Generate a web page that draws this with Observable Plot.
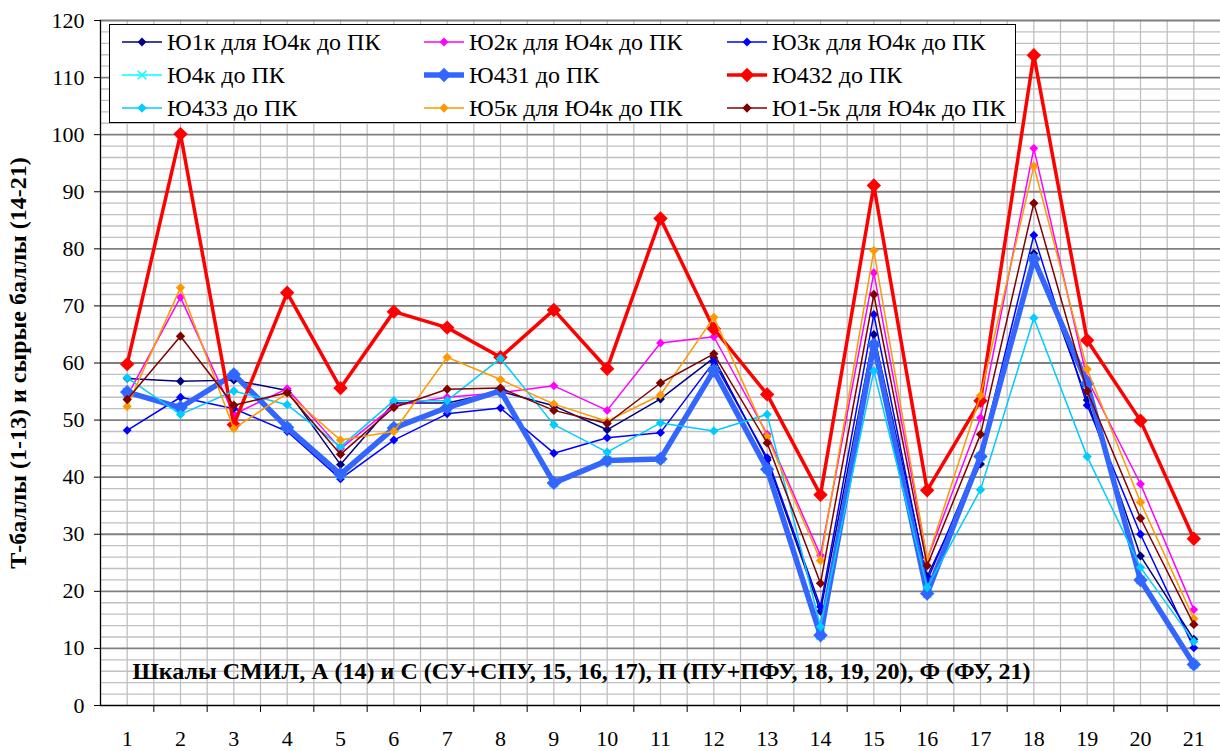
<!DOCTYPE html>
<html><head><meta charset="utf-8">
<script src="https://cdn.jsdelivr.net/npm/d3@7"></script>
<script src="https://cdn.jsdelivr.net/npm/@observablehq/plot@0.6"></script>
<style>
body{margin:0;background:#fff;}
#wrap{position:relative;width:1220px;height:751px;overflow:hidden;}
#legend{position:absolute;left:109px;top:24px;width:905px;height:97px;border:1.5px solid #000;background:#fff;font-family:"Liberation Serif",serif;font-size:24px;color:#000;}
.item{position:absolute;display:flex;align-items:center;white-space:nowrap;height:30px;}
.item svg{margin-right:5px;}
</style></head><body><div id="wrap"><div id="chart"></div><div id="legend"></div></div>
<script>
const categories = [1,2,3,4,5,6,7,8,9,10,11,12,13,14,15,16,17,18,19,20,21];
const seriesNames = ["Ю1к для Ю4к до ПК","Ю2к для Ю4к до ПК","Ю3к для Ю4к до ПК","Ю4к до ПК","Ю431 до ПК","Ю432 до ПК","Ю433 до ПК","Ю5к для Ю4к до ПК","Ю1-5к для Ю4к до ПК"];
const yu1k  = [57.3,56.8,57.0,55.2,42.2,53.0,53.0,55.0,52.5,48.3,53.7,60.9,43.0,16.5,65.0,22.6,42.3,79.2,53.5,26.2,11.6];
const yu2k  = [54.2,71.5,51.0,55.5,45.0,52.5,54.0,54.8,56.0,51.7,63.5,64.6,47.5,26.3,75.8,25.6,50.4,97.6,57.2,38.8,16.8];
const yu3k  = [48.2,54.0,52.0,48.0,39.7,46.5,51.1,52.1,44.2,46.9,47.8,60.2,43.4,17.3,68.5,21.8,44.0,82.4,52.6,30.0,10.1];
const yu4k  = [54.9,52.2,58.0,48.7,40.5,48.6,52.2,55.1,39.0,42.9,43.2,58.7,41.4,12.3,63.2,19.6,43.6,78.2,56.4,22.0,7.2];
const yu431 = [54.9,52.2,58.0,48.7,40.5,48.6,52.2,55.1,39.0,42.9,43.2,58.7,41.4,12.3,63.2,19.6,43.6,78.2,56.4,22.0,7.2];
const yu432 = [59.8,100.1,49.2,72.3,55.6,69.0,66.2,61.0,69.3,59.0,85.3,66.0,54.5,36.9,91.1,37.7,53.4,113.9,64.0,49.9,29.2];
const yu433 = [57.4,51.0,55.1,52.7,45.3,53.4,53.4,60.8,49.2,44.4,49.5,48.1,51.0,13.8,58.6,20.7,37.8,67.9,43.6,24.2,11.2];
const yu5k  = [52.4,73.2,48.5,54.7,46.5,48.0,61.0,57.1,52.8,49.8,54.4,68.0,47.1,25.4,79.7,25.6,54.3,94.5,58.9,35.6,15.2];
const yu15k = [53.6,64.7,52.6,54.8,44.0,52.2,55.4,55.6,51.7,49.4,56.5,61.6,46.0,21.4,72.0,24.5,47.5,88.0,55.1,32.8,14.2];
const yTicks = [0,10,20,30,40,50,60,70,80,90,100,110,120];
const yTitle = "Т-баллы (1-13) и сырые баллы (14-21)";
const caption = "Шкалы СМИЛ, А (14) и С (СУ+СПУ, 15, 16, 17), П (ПУ+ПФУ, 18, 19, 20), Ф (ФУ, 21)";

const values = [yu1k, yu2k, yu3k, yu4k, yu431, yu432, yu433, yu5k, yu15k];
const diamond = d3.symbolDiamond2 || "diamond";
const times = d3.symbolTimes || "times";
const styles = [
  {color:"#000080", w:1.5, sym:diamond, r:4, mode:"fill"},
  {color:"#FF00FF", w:1.5, sym:diamond, r:4, mode:"fill"},
  {color:"#0000FF", w:1.5, sym:diamond, r:4, mode:"fill"},
  {color:"#00FFFF", w:1.5, sym:times, r:4, mode:"stroke"},
  {color:"#3366FF", w:5.5, sym:diamond, r:6.5, mode:"fill"},
  {color:"#FF0000", w:3.5, sym:diamond, r:6.5, mode:"fill"},
  {color:"#00CCFF", w:1.5, sym:diamond, r:4.2, mode:"fill"},
  {color:"#FF9900", w:1.5, sym:diamond, r:4.2, mode:"fill"},
  {color:"#800000", w:1.5, sym:diamond, r:4.2, mode:"fill"}
];

const rows = [];
seriesNames.forEach((s, i) => categories.forEach((c, j) => rows.push({series: s, cat: c, value: values[i][j]})));

const halfSteps = d3.range(1, 21.01, 0.5);
const boundaries = categories.slice(0, -1).map(c => c + 0.5);
const minorY = d3.range(2, 120, 2).filter(v => v % 10 !== 0);
const majorY = yTicks.filter(v => v > 0);

const marks = [
  Plot.ruleY(minorY, {stroke:"#c0c0c0", strokeWidth:1.3}),
  Plot.ruleX(halfSteps, {stroke:"#c0c0c0", strokeWidth:1.3}),
  Plot.ruleY(majorY, {stroke:"#7f7f7f", strokeWidth:1.8}),
  Plot.ruleX([0.5], {stroke:"#000", strokeWidth:1.3}),
  Plot.ruleY([0], {stroke:"#000", strokeWidth:1.5}),
  Plot.text(categories, {x: d => d, y: 0, text: d => String(d), dy: 33, fontSize: 22}),
  Plot.text([caption], {frameAnchor:"bottom-left", dx: 32, dy: -27, textAnchor:"start", fontWeight:"bold", fontSize: 24}),
  Plot.text([yTitle], {frameAnchor:"left", dx: -82, rotate: -90, textAnchor:"middle", lineAnchor:"middle", fontWeight:"bold", fontSize: 24})
];
seriesNames.forEach((s, i) => {
  const st = styles[i];
  const data = rows.filter(r => r.series === s);
  marks.push(Plot.line(data, {x:"cat", y:"value", stroke: st.color, strokeWidth: st.w}));
  if (st.mode === "fill") marks.push(Plot.dot(data, {x:"cat", y:"value", symbol: st.sym, r: st.r, fill: st.color, stroke: "none"}));
  else marks.push(Plot.dot(data, {x:"cat", y:"value", symbol: st.sym, r: st.r, stroke: st.color, strokeWidth: 1.5, fill: "none"}));
});

const chart = Plot.plot({
  width: 1220, height: 751,
  marginLeft: 100, marginRight: 0, marginTop: 20, marginBottom: 46,
  style: {fontFamily: '"Liberation Serif", serif', fontSize: "22px", background: "#fff", color: "#000"},
  x: {type: "linear", domain: [0.5, 21.5], ticks: boundaries, tickSize: 7, tickFormat: () => "", label: null},
  y: {domain: [0, 120], ticks: yTicks, tickSize: 6, tickPadding: 10, label: null},
  marks
});
document.getElementById("chart").appendChild(chart);

// legend
const legend = document.getElementById("legend");
const colX = [12, 314, 617];
const rowY = [2, 35, 68];
seriesNames.forEach((s, i) => {
  const st = styles[i];
  const item = document.createElement("div");
  item.className = "item";
  item.style.left = colX[i % 3] + "px";
  item.style.top = rowY[Math.floor(i / 3)] + "px";
  const sw = d3.create("svg").attr("width", 40).attr("height", 30);
  sw.append("line").attr("x1", 0).attr("x2", 40).attr("y1", 15).attr("y2", 15).attr("stroke", st.color).attr("stroke-width", st.w);
  const size = Math.PI * st.r * st.r;
  const p = sw.append("path").attr("transform", "translate(20,15)").attr("d", d3.symbol(typeof st.sym === "string" ? d3.symbolDiamond : st.sym, size)());
  if (st.mode === "fill") p.attr("fill", st.color); else p.attr("fill", "none").attr("stroke", st.color).attr("stroke-width", 1.5);
  item.appendChild(sw.node());
  const t = document.createElement("span");
  t.textContent = s;
  item.appendChild(t);
  legend.appendChild(item);
});
</script></body></html>
